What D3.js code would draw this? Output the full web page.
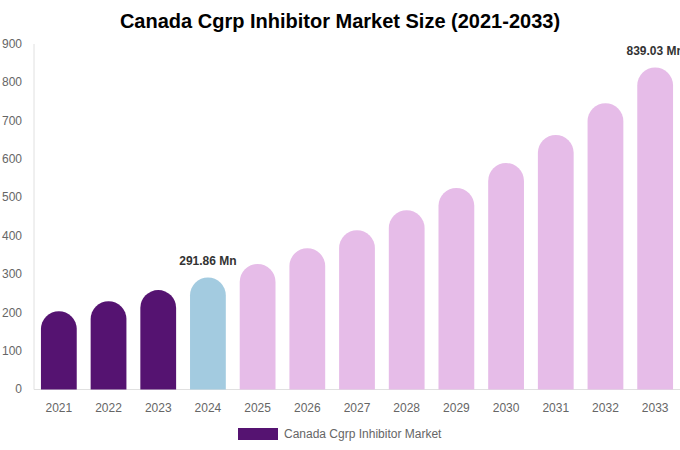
<!DOCTYPE html>
<html>
<head>
<meta charset="utf-8">
<script src="https://cdn.jsdelivr.net/npm/d3@7"></script>
<style>
  body { margin: 0; background: #fff; }
  svg { font-family: "Liberation Sans", Arial, sans-serif; }
</style>
</head>
<body>
<div id="chart"></div>
<script>
// Chart data
var years = ['2021', '2022', '2023', '2024', '2025', '2026', '2027', '2028', '2029', '2030', '2031', '2032', '2033'];
var marketSize = [204, 230, 259, 291.86, 327, 368, 415, 467, 525, 590, 663, 746, 839.03];
var yTicks = [0, 100, 200, 300, 400, 500, 600, 700, 800, 900];
var labelled = { '2024': '291.86 Mn', '2033': '839.03 Mn' };

var width = 680, height = 450;
var margin = { top: 44, right: 0, bottom: 60.5, left: 34 };

var svg = d3.select('#chart').append('svg')
  .attr('width', width)
  .attr('height', height);

// Title
svg.append('text')
  .attr('x', width / 2)
  .attr('y', 28)
  .attr('text-anchor', 'middle')
  .style('font-size', '20px')
  .style('font-weight', 'bold')
  .attr('fill', '#000')
  .text('Canada Cgrp Inhibitor Market Size (2021-2033)');

// Scales
var x = d3.scaleBand()
  .domain(years)
  .range([margin.left, width - margin.right])
  .paddingInner(0.28)
  .paddingOuter(0.14);

var y = d3.scaleLinear()
  .domain([0, 900])
  .range([height - margin.bottom, margin.top]);

// Colour by period
function barColor(year) {
  var yr = +year;
  if (yr < 2024) return '#551371';
  if (yr === 2024) return '#a3cbe0';
  return '#e6bce8';
}

// Axis lines
svg.append('line')
  .attr('x1', margin.left).attr('x2', margin.left)
  .attr('y1', margin.top).attr('y2', y(0))
  .attr('stroke', '#e0e0e0');

svg.append('line')
  .attr('x1', margin.left).attr('x2', width)
  .attr('y1', y(0)).attr('y2', y(0))
  .attr('stroke', '#e0e0e0');

// Y tick labels
svg.append('g').selectAll('text')
  .data(yTicks)
  .enter().append('text')
  .attr('x', 22)
  .attr('y', function(d) { return y(d); })
  .attr('dy', '0.32em')
  .attr('text-anchor', 'end')
  .attr('fill', '#666')
  .style('font-size', '12px')
  .text(function(d) { return d; });

// X tick labels
svg.append('g').selectAll('text')
  .data(years)
  .enter().append('text')
  .attr('x', function(d) { return x(d) + x.bandwidth() / 2; })
  .attr('y', y(0) + 22)
  .attr('text-anchor', 'middle')
  .attr('fill', '#666')
  .style('font-size', '12px')
  .text(function(d) { return d; });

// Bars with round tops
var bw = x.bandwidth();
var r = bw / 2;
svg.append('g').selectAll('path')
  .data(years)
  .enter().append('path')
  .attr('fill', function(d) { return barColor(d); })
  .attr('d', function(d, i) {
    var x0 = x(d), top = y(marketSize[i]), base = y(0);
    return 'M' + x0 + ',' + base +
      'L' + x0 + ',' + (top + r) +
      'A' + r + ',' + r + ' 0 0 1 ' + (x0 + bw) + ',' + (top + r) +
      'L' + (x0 + bw) + ',' + base + 'Z';
  });

// Value labels
svg.append('g').selectAll('text')
  .data(years.filter(function(d) { return labelled[d]; }))
  .enter().append('text')
  .attr('x', function(d) { return x(d) + bw / 2; })
  .attr('y', function(d) { return y(marketSize[years.indexOf(d)]) - 12; })
  .attr('text-anchor', 'middle')
  .attr('fill', '#333')
  .style('font-size', '12px')
  .style('font-weight', 'bold')
  .text(function(d) { return labelled[d]; });

// Legend
var legend = svg.append('g').attr('transform', 'translate(238,428)');
legend.append('rect')
  .attr('width', 40).attr('height', 12)
  .attr('fill', '#551371');
legend.append('text')
  .attr('x', 46).attr('y', 6)
  .attr('dy', '0.35em')
  .attr('fill', '#666')
  .style('font-size', '12px')
  .text('Canada Cgrp Inhibitor Market');
</script>
</body>
</html>
